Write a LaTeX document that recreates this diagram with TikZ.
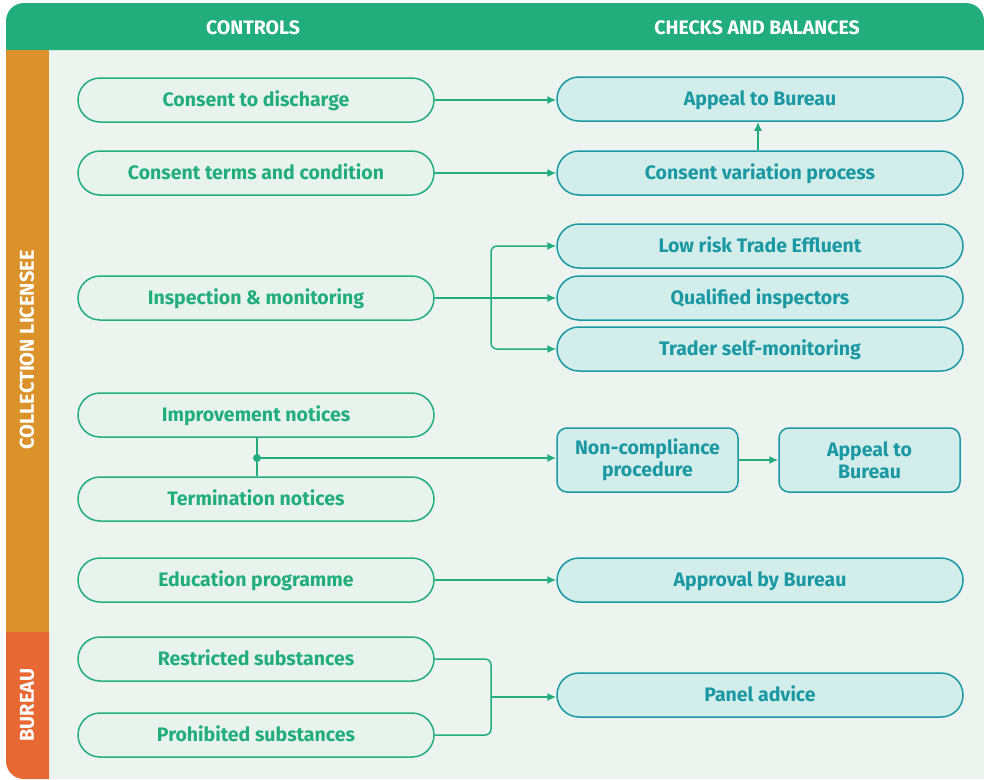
\documentclass[tikz,border=0pt]{standalone}
\usepackage{fontspec}
\setmainfont{Fira Sans}
\usetikzlibrary{arrows.meta}
\definecolor{hdr}{HTML}{22AE7C}
\definecolor{bgc}{HTML}{EDF4F0}
\definecolor{lfill}{HTML}{E8F3EE}
\definecolor{rfill}{HTML}{D3EEEA}
\definecolor{teal}{HTML}{1A98A3}
\definecolor{orng}{HTML}{DB922A}
\definecolor{redo}{HTML}{E86834}
\begin{document}
\begin{tikzpicture}[x=1pt,y=-1pt,
  lbox/.style={draw=hdr, fill=lfill, line width=1.5pt, rounded corners=22pt,
    minimum width=356pt, minimum height=44pt, text=hdr, text height=13.5pt, text depth=0pt,
    font=\fontsize{19.5}{22}\selectfont\bfseries},
  rbox/.style={draw=teal, fill=rfill, line width=1.5pt, rounded corners=22pt,
    minimum width=406pt, minimum height=44pt, text=teal, text height=13.5pt, text depth=0pt,
    font=\fontsize{19.5}{22}\selectfont\bfseries},
  sbox/.style={draw=teal, fill=rfill, line width=1.5pt, rounded corners=10pt,
    minimum width=181pt, minimum height=64pt, text=teal, align=center,
    font=\fontsize{19.5}{22}\selectfont\bfseries},
  conn/.style={draw=hdr, line width=1.5pt},
  arr/.style={conn, -{Latex[length=9pt,width=8pt]}},
  side/.style={text=white, rotate=90, text height=13.5pt, text depth=0pt,
    font=\fontsize{20}{22}\selectfont\bfseries},
  head/.style={text=white, text height=13.5pt, text depth=0pt,
    font=\fontsize{19.5}{22}\selectfont\bfseries}
]
\useasboundingbox (0,0) rectangle (984,779);
% backgrounds
\fill[bgc] (49,50) rectangle (984,779);
\fill[hdr] (6,50) -- (6,21) arc[start angle=180,end angle=270,radius=18] -- (966,3)
  arc[start angle=270,end angle=360,radius=18] -- (984,50) -- cycle;
\fill[orng] (6,50) rectangle (49,632);
\fill[redo] (6,632) -- (6,761) arc[start angle=180,end angle=90,radius=18] -- (49,779) -- (49,632) -- cycle;
\node[head] (hc) at (253,28) {CONTROLS};
\node[head] (hb) at (757,28) {CHECKS AND BALANCES};
\node[side] (scl) at (27,350) {COLLECTION LICENSEE};
\node[side] (sbu) at (27,705) {BUREAU};
% left nodes
\node[lbox] (l1) at (256,100) {Consent to discharge};
\node[lbox] (l2) at (256,173) {Consent terms and condition};
\node[lbox] (l3) at (256,298) {Inspection \& monitoring};
\node[lbox] (l4) at (256,415) {Improvement notices};
\node[lbox] (l5) at (256,499) {Termination notices};
\node[lbox] (l6) at (256,580) {Education programme};
\node[lbox] (l7) at (256,659) {Restricted substances};
\node[lbox] (l8) at (256,735) {Prohibited substances};
% right nodes
\node[rbox] (r1) at (760,99) {Appeal to Bureau};
\node[rbox] (r2) at (760,173) {Consent variation process};
\node[rbox] (r3) at (760,246) {Low risk Trade Effluent};
\node[rbox] (r4) at (760,298) {Qualified inspectors};
\node[rbox] (r5) at (760,349) {Trader self-monitoring};
\node[sbox] (r6) at (647.5,460) {Non-compliance\\procedure};
\node[sbox] (r7) at (869.5,460) {Appeal to\\Bureau};
\node[rbox] (r8) at (760,580) {Approval by Bureau};
\node[rbox] (r9) at (760,695) {Panel advice};
% connectors
\draw[arr] (l1.east) -- (l1.east -| r1.west);
\draw[arr] (l2.east) -- (r2.west);
\draw[arr] (r2.north -| 758,0) -- (r1.south -| 758,0);
\draw[arr] (l3.east) -- (r4.west);
\coordinate (b1) at (491,298);
\draw[arr, rounded corners=6pt] (b1) |- (r3.west);
\draw[arr, rounded corners=6pt] (b1) |- (r5.west);
\coordinate (dj) at (257,458);
\draw[conn] (l4.south -| dj) -- (l5.north -| dj);
\fill[hdr] (dj) circle (4pt);
\draw[arr] (dj) -- (dj -| r6.west);
\draw[arr] (r6.east) -- (r6.east -| r7.west);
\draw[arr] (l6.east) -- (r8.west);
\coordinate (b2) at (491,697);
\draw[conn, rounded corners=6pt] (l7.east) -| (b2) |- (l8.east);
\draw[arr] (b2) -- (b2 -| r9.west);
\end{tikzpicture}
\end{document}
